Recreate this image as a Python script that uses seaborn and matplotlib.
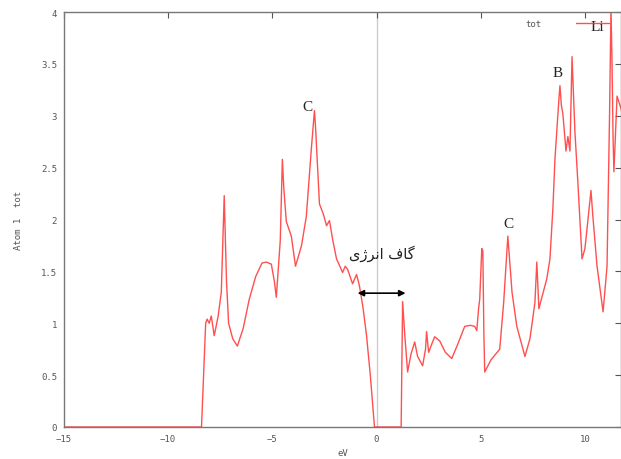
import matplotlib
matplotlib.use("Agg")
import matplotlib.pyplot as plt
import seaborn as sns
import pandas as pd

# Total density of states
energy = [-15, -8.4, -8.3, -8.2, -8.13, -8.03, -7.93, -7.79, -7.6, -7.45, -7.31, -7.2,
          -7.1, -6.9, -6.68, -6.4, -6.11, -5.8, -5.5, -5.29, -5.05, -4.9, -4.81, -4.62,
          -4.52, -4.45, -4.33, -4.09, -3.89, -3.6, -3.37, -3.13, -2.98, -2.93, -2.74,
          -2.55, -2.40, -2.26, -2.1, -1.92, -1.63, -1.5, -1.39, -1.15, -0.96, -0.82,
          -0.65, -0.48, -0.3, -0.1, 1.18, 1.25, 1.35, 1.49, 1.65, 1.83, 1.97, 2.21,
          2.35, 2.40, 2.50, 2.65, 2.79, 3.03, 3.3, 3.61, 3.9, 4.23, 4.5, 4.71, 4.81,
          4.9, 4.95, 5.05, 5.10, 5.15, 5.19, 5.5, 5.91, 6.1, 6.30, 6.5, 6.73, 7.12,
          7.36, 7.6, 7.69, 7.79, 8.0, 8.17, 8.32, 8.46, 8.56, 8.75, 8.80, 8.87, 8.94,
          9.09, 9.18, 9.28, 9.38, 9.52, 9.66, 9.86, 10.0, 10.29, 10.38, 10.58, 10.87,
          11.06, 11.18, 11.25, 11.30, 11.35, 11.39, 11.54, 11.73, 11.8]
dos = [0, 0, 0.5, 1.0, 1.04, 1.0, 1.07, 0.88, 1.07, 1.3, 2.23, 1.4,
       1.0, 0.85, 0.78, 0.95, 1.23, 1.45, 1.58, 1.59, 1.57, 1.4, 1.25, 1.8,
       2.58, 2.3, 1.98, 1.84, 1.55, 1.75, 2.03, 2.68, 3.05, 2.9, 2.15,
       2.05, 1.94, 1.99, 1.8, 1.62, 1.49, 1.55, 1.52, 1.38, 1.47, 1.36,
       1.15, 0.88, 0.5, 0.0, 0.0, 1.21, 0.9, 0.53, 0.7, 0.82, 0.68, 0.59,
       0.75, 0.92, 0.72, 0.8, 0.87, 0.83, 0.72, 0.66, 0.8, 0.97, 0.98, 0.97, 0.93,
       1.15, 1.23, 1.72, 1.7, 0.9, 0.53, 0.65, 0.75, 1.2, 1.84, 1.3, 0.97, 0.68,
       0.85, 1.2, 1.59, 1.14, 1.3, 1.43, 1.62, 2.1, 2.58, 3.16, 3.29, 3.1, 3.02,
       2.66, 2.8, 2.66, 3.57, 2.84, 2.36, 1.62, 1.72, 2.28, 2.03, 1.55, 1.11,
       1.55, 3.0, 4.05, 3.5, 2.78, 2.46, 3.19, 3.07, 3.0]

x_ticks = [-15, -10, -5, 0, 5, 10]
y_ticks = [0, 0.5, 1, 1.5, 2, 2.5, 3, 3.5, 4]
y_tick_labels = ["0", "0.5", "1", "1.5", "2", "2.5", "3", "3.5", "4"]

# peak labels: (text, energy, height)
peak_labels = [("C", -3.3, 3.09), ("C", 6.35, 1.96), ("B", 8.7, 3.42), ("Li", 10.6, 3.86)]
# "gap energy" in Persian, written in shaped presentation forms (visual order)
gap_label = "\uFBFC\uFB8A\uFEAE\uFEE7\uFE8D \uFED1\uFE8E\uFB94"

sns.set_style("white")
plt.rcParams["font.family"] = ["DejaVu Sans Mono", "DejaVu Sans"]

df = pd.DataFrame({"eV": energy, "tot": dos})

fig = plt.figure(figsize=(6.21, 4.60), dpi=100)
ax = fig.add_axes([0.103, 0.0696, 0.897, 0.902])

ax.axvline(0, color="#cccccc", lw=1, zorder=0)
sns.lineplot(data=df, x="eV", y="tot", ax=ax, color="#ff3030", lw=1.0,
             alpha=0.85, label="tot", sort=False)

ax.set_xlim(-15, 11.73)
ax.set_ylim(0, 4)
ax.set_xticks(x_ticks)
ax.set_yticks(y_ticks)
ax.set_yticklabels(y_tick_labels)
ax.tick_params(direction="in", length=4, width=0.8, colors="#555555",
               labelsize=6.5, top=True, right=True, pad=5)
for s in ax.spines.values():
    s.set_color("#777777")
    s.set_linewidth(1.0)

ax.set_xlabel("eV", fontsize=6.5, color="#555555", labelpad=4)
ax.set_ylabel("Atom 1  tot", fontsize=6.5, color="#555555", labelpad=13)

leg = ax.legend(loc="upper right", frameon=False, markerfirst=False,
                fontsize=6.5, handlelength=3.6, handletextpad=3.8,
                borderaxespad=0.35, bbox_to_anchor=(0.99, 1.0))
for t in leg.get_texts():
    t.set_color("#555555")

for txt, ex, ey in peak_labels:
    ax.text(ex, ey, txt, family="Liberation Serif", fontsize=11,
            ha="center", va="center", color="#222222")

ax.annotate("", xy=(-0.91, 1.29), xytext=(1.39, 1.29),
            arrowprops=dict(arrowstyle="<|-|>", color="black", lw=1.2,
                            mutation_scale=9, shrinkA=0, shrinkB=0))
ax.text(0.24, 1.68, gap_label, family=["DejaVu Sans"], fontsize=10.5,
        ha="center", va="center", color="#222222")

fig.savefig("out.png", dpi=100)
plt.close(fig)
